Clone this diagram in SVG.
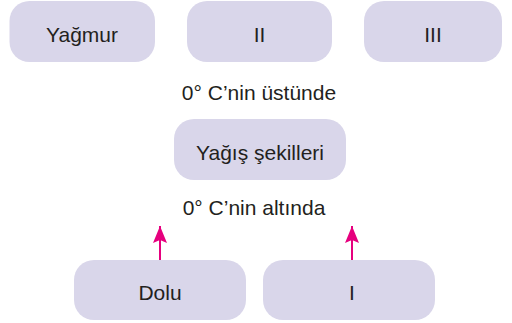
<svg xmlns="http://www.w3.org/2000/svg" width="512" height="323" viewBox="0 0 512 323">
<defs>
<style>
.box{fill:#d9d6ea;}
.t{font-family:"Liberation Sans",Arial,sans-serif;font-size:21px;fill:#231f20;text-anchor:middle;}
.arr{stroke:#e6007e;stroke-width:2;fill:none;}
</style>
<marker id="ah" markerWidth="17" markerHeight="14" refX="17" refY="7" orient="auto" markerUnits="userSpaceOnUse" viewBox="0 0 17 14">
<path d="M0,0 L17,7 L0,14 L3,7 Z" fill="#e6007e"/>
</marker>
</defs>
<rect width="512" height="323" fill="#ffffff"/>
<g id="yagmur"><rect class="box" x="9.5" y="1" width="145.5" height="61" rx="20"/><text class="t" x="82" y="42">Yağmur</text></g>
<g id="ii"><rect class="box" x="187" y="1" width="145" height="61" rx="20"/><text class="t" x="259.5" y="42">II</text></g>
<g id="iii"><rect class="box" x="364" y="1" width="138" height="61" rx="20"/><text class="t" x="433" y="42">III</text></g>
<g id="ustunde"><text class="t" x="259" y="100">0° C’nin üstünde</text></g>
<g id="yagis"><rect class="box" x="174" y="119" width="172" height="61" rx="20"/><text class="t" x="260" y="160">Yağış şekilleri</text></g>
<g id="altinda"><text class="t" x="254" y="215">0° C’nin altında</text></g>
<g id="dolu"><rect class="box" x="74" y="260" width="172" height="60" rx="20"/><text class="t" x="160" y="300">Dolu</text></g>
<g id="i"><rect class="box" x="263" y="260" width="172" height="60" rx="20"/><text class="t" x="352" y="300">I</text></g>
<g id="connectors">
<line class="arr" x1="160" y1="260" x2="160" y2="226" marker-end="url(#ah)"/>
<line class="arr" x1="352" y1="260" x2="352" y2="226" marker-end="url(#ah)"/>
</g>
</svg>
